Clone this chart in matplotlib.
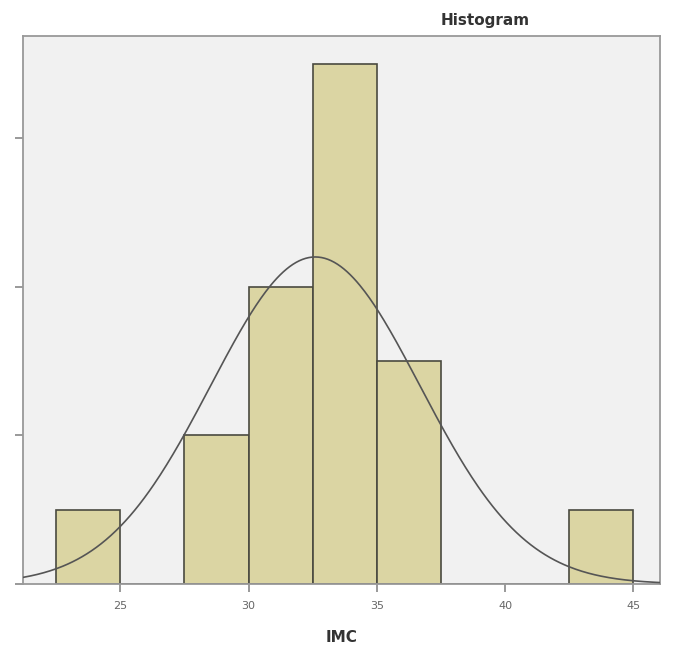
import numpy as np
import matplotlib.pyplot as plt

# --- DATA ---
bin_edges = [22.5, 25.0, 27.5, 30.0, 32.5, 35.0, 37.5, 40.0, 42.5, 45.0]
counts = [1, 0, 2, 4, 7, 3, 0, 0, 1]
curve_mean = 32.6
curve_sd = 4.08
n_total = 18
x_ticks = [25, 30, 35, 40, 45]
y_ticks = [0, 2, 4, 6]

# --- PLOT ---
fig = plt.figure(figsize=(6.75, 6.47), dpi=100)
ax = fig.add_axes([0.034, 0.0974, 0.944, 0.8466])
ax.set_facecolor("#f1f1f1")

lefts = bin_edges[:-1]
widths = np.diff(bin_edges)
ax.bar(lefts, counts, width=widths, align="edge",
       color="#dbd5a3", edgecolor="#4a4a40", linewidth=1.2, zorder=2)

# normal curve scaled to counts
bw = widths[0]
xs = np.linspace(21.2, 46.05, 400)
ys = n_total * bw / (curve_sd * np.sqrt(2 * np.pi)) * np.exp(-0.5 * ((xs - curve_mean) / curve_sd) ** 2)
ax.plot(xs, ys, color="#555555", linewidth=1.2, zorder=3)

ax.set_xlim(21.2, 46.05)
ax.set_ylim(0, 7.37)
ax.set_xticks(x_ticks)
ax.set_xticklabels([str(t) for t in x_ticks], fontsize=8, color="#666666")
ax.set_yticks(y_ticks)
ax.set_yticklabels([])
ax.tick_params(axis="both", direction="out", length=6, color="#888888", width=1.2)
ax.tick_params(axis="x", pad=6)

for s in ax.spines.values():
    s.set_color("#999999")
    s.set_linewidth(1.3)

ax.set_xlabel("IMC", fontsize=11, fontweight="bold", color="#333333", labelpad=14)
fig.text(485 / 675, 1 - 20 / 647, "Histogram", ha="center", va="center",
         fontsize=11, fontweight="bold", color="#333333")

fig.savefig("out.png", dpi=100)
